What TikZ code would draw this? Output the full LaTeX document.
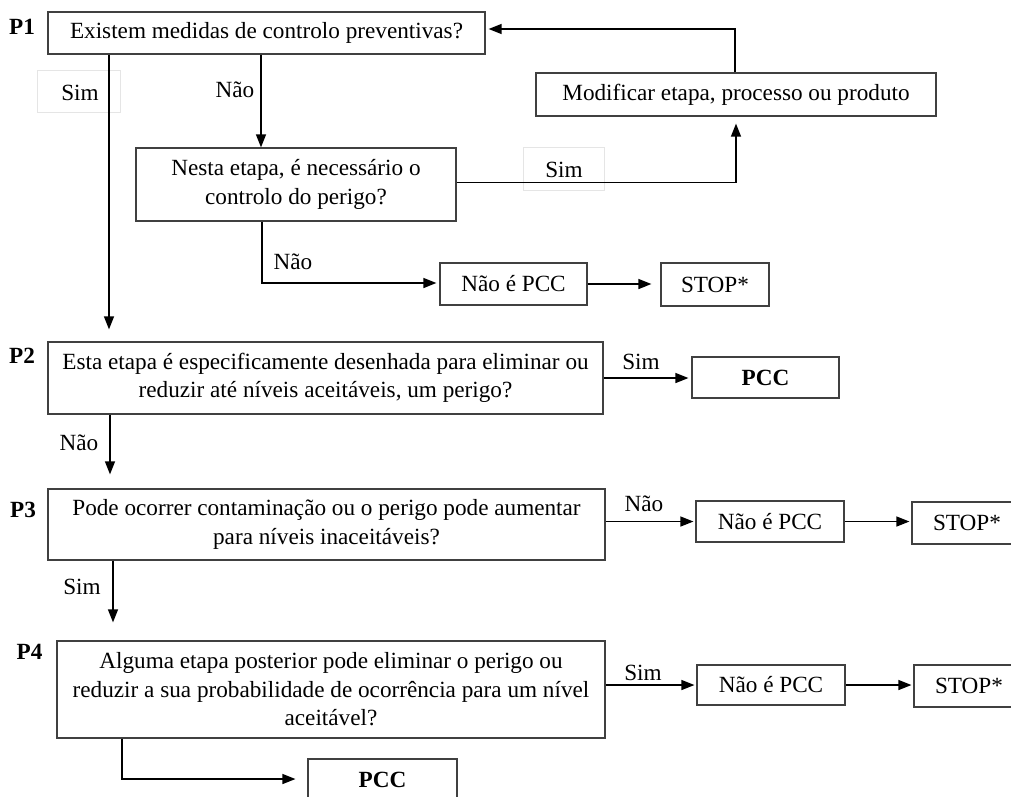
\documentclass[tikz,border=0pt]{standalone}
\usepackage{fontspec}
\setmainfont{Liberation Serif}
\usetikzlibrary{arrows.meta,calc}
\begin{document}
\begin{tikzpicture}[x=1pt,y=-1pt,
  every node/.style={font=\fontsize{23.2}{28.5}\selectfont},
  qbox/.style={draw=black!75,line width=1.2pt,rectangle,inner sep=0pt,align=center},
  lbl/.style={inner sep=0pt,anchor=center},
  plbl/.style={inner sep=0pt,font=\fontsize{23.2}{26}\selectfont\bfseries},
  faint/.style={draw=black!10,line width=0.6pt},
  arr/.style={draw=black,line width=1.3pt,-{Triangle[length=13pt,width=10pt]}}]
\useasboundingbox (0,0) rectangle (1011,796);
\clip (0,0) rectangle (1011,796);
% boxes
\node[qbox,minimum width=437pt,minimum height=42pt] (p1) at (266.5,33) {Existem medidas de controlo preventivas?};
\node[qbox,minimum width=400pt,minimum height=43pt] (mod) at (736,94.5) {Modificar etapa, processo ou produto};
\node[qbox,minimum width=320pt,minimum height=73pt] (nesta) at (296,184.5) {Nesta etapa, é necessário o\\controlo do perigo?};
\node[qbox,minimum width=147pt,minimum height=42pt] (nao1) at (513.5,284) {Não é PCC};
\node[qbox,minimum width=108pt,minimum height=43pt] (stop1) at (715,284.5) {STOP*};
\node[qbox,minimum width=555pt,minimum height=72pt] (p2) at (325.5,378) {Esta etapa é especificamente desenhada para eliminar ou\\reduzir até níveis aceitáveis, um perigo?};
\node[qbox,minimum width=147pt,minimum height=41pt] (pcc1) at (765.5,377.5) {\bfseries PCC};
\node[qbox,minimum width=557pt,minimum height=71pt] (p3) at (326.5,524.5) {Pode ocorrer contaminação ou o perigo pode aumentar\\para níveis inaceitáveis?};
\node[qbox,minimum width=148pt,minimum height=41pt] (nao2) at (770,521.5) {Não é PCC};
\node[qbox,minimum width=110pt,minimum height=42pt] (stop2) at (967,523) {STOP*};
\node[qbox,minimum width=548pt,minimum height=97pt] (p4) at (331,689.5) {Alguma etapa posterior pode eliminar o perigo ou\\reduzir a sua probabilidade de ocorrência para um nível\\aceitável?};
\node[qbox,minimum width=148pt,minimum height=40pt] (nao3) at (771,685) {Não é PCC};
\node[qbox,minimum width=110pt,minimum height=42pt] (stop3) at (969,686) {STOP*};
\node[qbox,minimum width=149pt,minimum height=42pt] (pcc2) at (382.5,780) {\bfseries PCC};
% P labels
\node[plbl] (lp1) at (22,27) {P1};
\node[plbl] (lp2) at (22,356) {P2};
\node[plbl] (lp3) at (23,510) {P3};
\node[plbl] (lp4) at (29.5,652) {P4};
% faint label boxes
\draw[faint] (37,70) rectangle (120,112);
\draw[faint] (523,147) rectangle (604,190);
% connector labels
\node[lbl] (s1) at (80,93) {Sim};
\node[lbl] (n1) at (235,90) {Não};
\node[lbl] (s2) at (564,170) {Sim};
\node[lbl] (n2) at (293,262) {Não};
\node[lbl] (s3) at (641,362) {Sim};
\node[lbl] (n3) at (79,443) {Não};
\node[lbl] (n4) at (644,504) {Não};
\node[lbl] (s4) at (82,587) {Sim};
\node[lbl] (s5) at (643,673) {Sim};
% helper coordinates
\coordinate (c1) at (736,182.5);
\coordinate (c2) at (735,29);
\coordinate (c3) at (262,283);
\coordinate (c4) at (122,779);
% connectors
\draw[arr] (p1.south -| 261,0) -- (nesta.north -| 261,0);
\draw[arr,shorten >=12pt] (p1.south -| 109,0) -- (p2.north -| 109,0);
\draw[arr,shorten >=7pt] (nesta.east |- c1) -- (c1) -- (mod.south -| c1);
\draw[arr,shorten >=3pt] (mod.north -| c2) -- (c2) -- (p1.east |- c2);
\draw[arr,shorten >=3pt] (nesta.south -| c3) -- (c3) -- (nao1.west |- c3);
\draw[arr,shorten >=9pt] (nao1.east) -- (stop1.west |- nao1.east);
\draw[arr,shorten >=3pt] (p2.east) -- (pcc1.west |- p2.east);
\draw[arr,shorten >=14pt] (p2.south -| 110,0) -- (p3.north -| 110,0);
\draw[arr,shorten >=2pt] (p3.east |- nao2.west) -- (nao2.west);
\draw[arr,shorten >=2pt] (nao2.east) -- (stop2.west |- nao2.east);
\draw[arr,shorten >=18pt] (p3.south -| 113,0) -- (p4.north -| 113,0);
\draw[arr,shorten >=2pt] (p4.east |- nao3.west) -- (nao3.west);
\draw[arr,shorten >=2pt] (nao3.east) -- (stop3.west |- nao3.east);
\draw[arr,shorten >=12pt] (p4.south -| c4) -- (c4) -- (pcc2.west |- c4);
\end{tikzpicture}
\end{document}
